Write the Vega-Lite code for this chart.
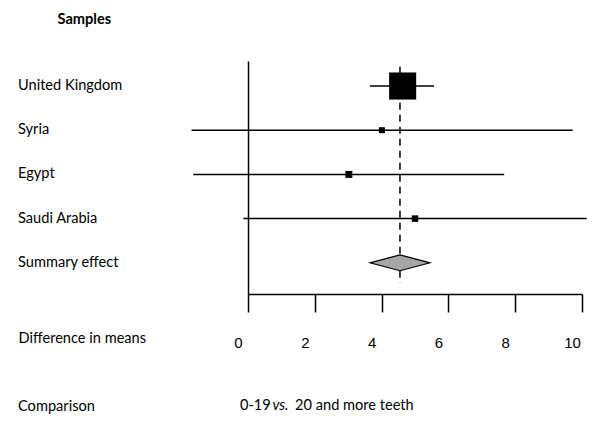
{
  "$schema": "https://vega.github.io/schema/vega-lite/v6.json",
  "autosize": "none",
  "width": 334,
  "height": 233,
  "padding": {"left": 248, "top": 61, "right": 18, "bottom": 129},
  "background": "white",
  "config": {"view": {"stroke": null}, "font": "Lato"},
  "datasets": {
    "studies": [
      {"sample": "United Kingdom", "row": 1, "estimate": 4.63, "lower": 3.65, "upper": 5.57, "weight": 85.2},
      {"sample": "Syria", "row": 2, "estimate": 4.01, "lower": -1.69, "upper": 9.72, "weight": 4.2},
      {"sample": "Egypt", "row": 3, "estimate": 3.02, "lower": -1.64, "upper": 7.67, "weight": 5.7},
      {"sample": "Saudi Arabia", "row": 4, "estimate": 5.0, "lower": -0.14, "upper": 10.14, "weight": 4.9}
    ],
    "summary": [
      {"sample": "Summary effect", "row": 5, "estimate": 4.55, "lower": 3.65, "upper": 5.45}
    ],
    "diamond": [
      {"x": 3.65, "top": 5, "bottom": 5},
      {"x": 4.55, "top": 4.82, "bottom": 5.18},
      {"x": 5.45, "top": 5, "bottom": 5}
    ],
    "comparison": [
      {"label": "Comparison", "partA": "0-19", "partB": "vs.", "partC": "20 and more teeth"}
    ]
  },
  "layer": [
    {
      "data": {"name": "summary"},
      "mark": {"type": "rule", "color": "black", "strokeWidth": 1.5, "strokeDash": [7, 5]},
      "encoding": {
        "x": {"field": "estimate", "type": "quantitative"},
        "y": {"datum": 0.563, "type": "quantitative"},
        "y2": {"datum": 5.457}
      }
    },
    {
      "data": {"name": "studies"},
      "mark": {"type": "rule", "color": "black", "strokeWidth": 1.5, "clip": false},
      "encoding": {
        "x": {
          "field": "lower",
          "type": "quantitative",
          "scale": {"domain": [0, 10], "nice": false, "zero": false},
          "axis": {
            "values": [0, 2, 4, 6, 8, 10],
            "grid": false,
            "tickSize": 18,
            "tickWidth": 1.5,
            "tickColor": "black",
            "domainColor": "black",
            "domainWidth": 1.5,
            "labelFont": "Liberation Sans",
            "labelFontSize": 15,
            "labelColor": "black",
            "labelOffset": -10,
            "labelPadding": 23,
            "labelFlush": false,
            "labelOverlap": false,
            "labelBound": false,
            "title": "Difference in means",
            "titleFont": "Lato",
            "titleFontSize": 14.6,
            "titleFontWeight": "normal",
            "titleColor": "black",
            "titleX": -230,
            "titleY": 44,
            "titleAlign": "left",
            "titleBaseline": "middle"
          }
        },
        "x2": {"field": "upper"},
        "y": {
          "field": "row",
          "type": "quantitative",
          "scale": {"domain": [0.434, 5.706], "reverse": true, "nice": false, "zero": false},
          "axis": {
            "grid": false,
            "ticks": false,
            "labels": false,
            "domainColor": "black",
            "domainWidth": 1.5,
            "title": "Samples",
            "titleFont": "Lato",
            "titleFontSize": 14.6,
            "titleFontWeight": "bold",
            "titleColor": "black",
            "titleAngle": 0,
            "titleX": -191,
            "titleY": -42,
            "titleAlign": "left",
            "titleBaseline": "middle"
          }
        }
      }
    },
    {
      "data": {"name": "studies"},
      "mark": {"type": "square", "color": "black", "opacity": 1, "filled": true},
      "encoding": {
        "x": {"field": "estimate", "type": "quantitative"},
        "y": {"field": "row", "type": "quantitative"},
        "size": {"field": "weight", "type": "quantitative", "scale": {"domain": [0, 100], "range": [0, 860]}, "legend": null}
      }
    },
    {
      "data": {"name": "diamond"},
      "mark": {"type": "area", "fill": "#a6a6a6", "stroke": "black", "strokeWidth": 1.2, "opacity": 1},
      "encoding": {
        "x": {"field": "x", "type": "quantitative"},
        "y": {"field": "top", "type": "quantitative"},
        "y2": {"field": "bottom"}
      }
    },
    {
      "data": {"name": "studies"},
      "mark": {"type": "text", "align": "left", "baseline": "middle", "font": "Lato", "fontSize": 14.6, "color": "black"},
      "encoding": {
        "x": {"datum": -6.886, "type": "quantitative"},
        "y": {"field": "row", "type": "quantitative"},
        "text": {"field": "sample"}
      }
    },
    {
      "data": {"name": "summary"},
      "mark": {"type": "text", "align": "left", "baseline": "middle", "font": "Lato", "fontSize": 14.6, "color": "black"},
      "encoding": {
        "x": {"datum": -6.886, "type": "quantitative"},
        "y": {"field": "row", "type": "quantitative"},
        "text": {"field": "sample"}
      }
    },
    {
      "data": {"name": "comparison"},
      "mark": {"type": "text", "align": "left", "baseline": "middle", "font": "Lato", "fontSize": 14.6, "color": "black"},
      "encoding": {
        "x": {"datum": -6.886, "type": "quantitative"},
        "y": {"datum": 8.26, "type": "quantitative"},
        "text": {"field": "label"}
      }
    },
    {
      "data": {"name": "comparison"},
      "mark": {"type": "text", "align": "left", "baseline": "middle", "font": "Lato", "fontSize": 14.6, "color": "black"},
      "encoding": {
        "x": {"datum": -0.24, "type": "quantitative"},
        "y": {"datum": 8.24, "type": "quantitative"},
        "text": {"field": "partA"}
      }
    },
    {
      "data": {"name": "comparison"},
      "mark": {"type": "text", "align": "left", "baseline": "middle", "font": "Lato", "fontSize": 14.6, "fontStyle": "italic", "color": "black"},
      "encoding": {
        "x": {"datum": 0.73, "type": "quantitative"},
        "y": {"datum": 8.24, "type": "quantitative"},
        "text": {"field": "partB"}
      }
    },
    {
      "data": {"name": "comparison"},
      "mark": {"type": "text", "align": "left", "baseline": "middle", "font": "Lato", "fontSize": 14.6, "color": "black"},
      "encoding": {
        "x": {"datum": 1.41, "type": "quantitative"},
        "y": {"datum": 8.24, "type": "quantitative"},
        "text": {"field": "partC"}
      }
    }
  ]
}
